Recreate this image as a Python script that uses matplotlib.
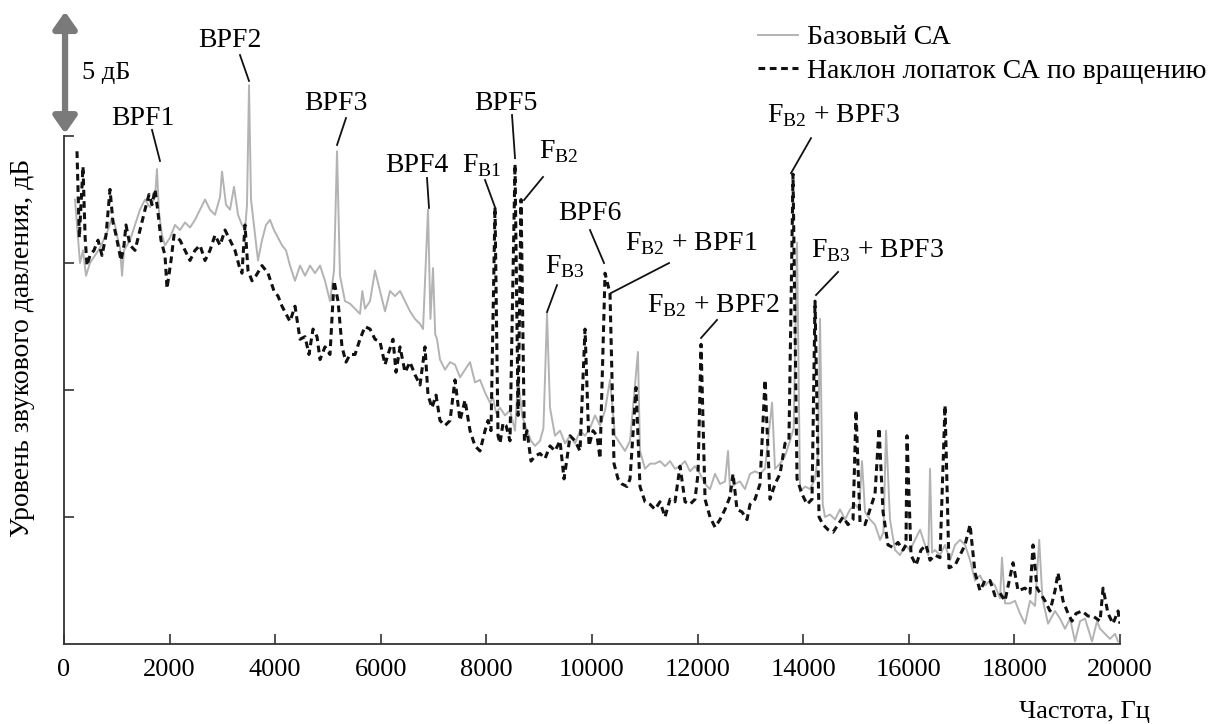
import matplotlib
matplotlib.use("Agg")
import matplotlib.pyplot as plt

plt.rcParams['font.family'] = ['Liberation Serif', 'DejaVu Serif']
plt.rcParams['mathtext.fontset'] = 'custom'
plt.rcParams['mathtext.rm'] = 'Liberation Serif'

# базовый СА (серая сплошная)
base_hz = [208, 246, 303, 360, 417, 492, 587, 682, 833, 909, 966, 1023, 1061, 1099, 1136,
           1250, 1345, 1439, 1534, 1629, 1724, 1761, 1799, 1856, 1913, 2008, 2102, 2197,
           2292, 2386, 2481, 2576, 2671, 2765, 2860, 2955, 2993, 3068, 3144, 3220, 3296,
           3371, 3428, 3466, 3504, 3542, 3580, 3674, 3750, 3826, 3902, 3977, 4053, 4129,
           4205, 4280, 4375, 4470, 4565, 4659, 4754, 4849, 4943, 5038, 5114, 5171, 5227,
           5322, 5417, 5512, 5606, 5650, 5701, 5796, 5890, 5985, 6080, 6174, 6269, 6364,
           6459, 6553, 6648, 6743, 6800, 6894, 6940, 6989, 7030, 7065, 7121, 7216, 7311,
           7405, 7500, 7595, 7690, 7784, 7879, 7974, 8068, 8125, 8182, 8258, 8353, 8447,
           8542, 8600, 8675, 8769, 8845, 8921, 9015, 9080, 9148, 9205, 9299, 9394, 9489,
           9584, 9678, 9773, 9868, 9962, 10057, 10152, 10247, 10341, 10436, 10531, 10625,
           10720, 10870, 10909, 11004, 11099, 11193, 11288, 11383, 11478, 11572, 11667,
           11762, 11856, 11951, 12046, 12141, 12235, 12330, 12424, 12519, 12576, 12614,
           12709, 12803, 12898, 12993, 13088, 13182, 13277, 13410, 13466, 13561, 13656,
           13750, 13820, 13883, 13940, 14035, 14129, 14224, 14281, 14319, 14370, 14413,
           14508, 14603, 14697, 14792, 14887, 14982, 15060, 15114, 15171, 15266, 15360,
           15455, 15520, 15569, 15644, 15739, 15834, 15929, 16023, 16118, 16213, 16307,
           16370, 16402, 16440, 16497, 16591, 16686, 16781, 16876, 16970, 17065, 17160,
           17254, 17349, 17443, 17538, 17633, 17728, 17765, 17822, 17917, 18012, 18106,
           18201, 18296, 18391, 18470, 18530, 18637, 18769, 18864, 18959, 19054, 19148,
           19243, 19338, 19470, 19565, 19622, 19717, 19811, 19905, 19963]
base_db = [17.5, 16.5, 15.0, 15.5, 14.5, 15.0, 15.3, 15.6, 16.3, 16.8, 16.5, 15.9, 15.6, 14.5, 15.5,
           15.9, 16.5, 17.1, 17.5, 17.2, 17.6, 18.7, 17.0, 16.1, 15.7, 16.0, 16.5, 16.3,
           16.6, 16.4, 16.7, 17.1, 17.5, 17.1, 16.9, 17.6, 18.6, 17.3, 17.1, 18.0, 16.9,
           16.5, 16.3, 17.3, 22.0, 17.5, 16.8, 15.1, 15.9, 16.5, 16.7, 16.3, 16.0, 15.7,
           15.5, 14.9, 14.3, 14.9, 14.5, 14.9, 14.6, 14.9, 14.3, 13.5, 14.7, 19.4, 14.5,
           13.5, 13.4, 13.2, 13.0, 13.9, 13.2, 13.5, 14.7, 13.9, 13.1, 13.9, 13.7, 13.9,
           13.5, 13.1, 12.8, 12.6, 12.4, 17.1, 12.8, 14.8, 12.2, 12.0, 11.2, 10.8, 11.1,
           11.0, 10.5, 10.8, 11.1, 10.3, 10.4, 9.9, 9.5, 9.7, 9.1, 9.3, 9.0, 9.2,
           8.4, 10.5, 9.0, 8.4, 8.0, 7.8, 8.0, 8.5, 13.0, 9.3, 8.2, 8.4, 7.9,
           8.2, 7.9, 8.4, 8.2, 8.5, 9.0, 8.6, 9.2, 10.4, 8.2, 7.9, 7.6,
           8.0, 11.5, 7.6, 6.9, 7.1, 7.1, 7.2, 7.0, 7.2, 6.9, 7.0,
           7.2, 6.8, 7.0, 6.7, 6.3, 6.1, 6.7, 6.3, 6.4, 7.6, 6.1,
           6.3, 6.4, 6.1, 6.7, 6.8, 6.7, 6.9, 9.5, 6.9, 7.1, 7.4,
           8.0, 8.5, 15.8, 6.0, 6.2, 6.1, 6.5, 7.5, 12.8, 5.5, 5.0,
           5.1, 4.9, 5.3, 4.9, 5.3, 5.5, 5.3, 7.2, 5.2, 4.9, 4.7,
           4.1, 4.4, 8.4, 4.9, 3.7, 3.5, 3.9, 3.7, 4.1, 4.5, 3.9,
           3.5, 6.9, 3.6, 3.7, 3.5, 3.9, 3.3, 3.9, 4.1, 3.9, 3.3,
           2.5, 2.7, 2.3, 2.5, 2.3, 1.8, 3.4, 1.6, 1.6, 1.7, 1.2,
           0.8, 1.7, 1.5, 4.1, 1.8, 0.8, 1.3, 1.0, 0.6, 1.0, 0.1,
           0.9, 1.0, 0.1, 0.9, 0.6, 0.4, 0.2, 0.4, 0.1]

# наклон лопаток СА (чёрная штриховая)
tilt_hz = [246, 290, 360, 400, 436, 492, 568, 644, 720, 796, 871, 928, 985, 1042, 1080,
           1136, 1174, 1250, 1345, 1439, 1534, 1610, 1667, 1724, 1780, 1837, 1913, 1951,
           2027, 2084, 2197, 2292, 2386, 2481, 2576, 2671, 2765, 2860, 2955, 3050, 3144,
           3239, 3315, 3371, 3428, 3485, 3561, 3636, 3750, 3864, 3977, 4053, 4129, 4205,
           4280, 4375, 4470, 4565, 4640, 4716, 4792, 4849, 4943, 5038, 5114, 5190, 5265,
           5341, 5417, 5512, 5606, 5701, 5796, 5890, 5985, 6080, 6137, 6231, 6288, 6364,
           6459, 6553, 6648, 6743, 6837, 6894, 6970, 7046, 7121, 7216, 7311, 7405, 7500,
           7595, 7690, 7784, 7879, 7974, 8030, 8087, 8163, 8220, 8258, 8315, 8372, 8447,
           8542, 8600, 8656, 8720, 8769, 8845, 8921, 9015, 9110, 9205, 9299, 9394, 9470,
           9527, 9584, 9678, 9773, 9868, 9943, 10019, 10095, 10152, 10247, 10341, 10417,
           10493, 10569, 10663, 10720, 10834, 10909, 11004, 11099, 11193, 11288, 11383,
           11478, 11572, 11667, 11762, 11856, 11951, 12008, 12065, 12141, 12235, 12330,
           12424, 12519, 12614, 12671, 12746, 12841, 12936, 12993, 13088, 13182, 13277,
           13372, 13466, 13561, 13656, 13730, 13807, 13883, 13978, 14073, 14167, 14224,
           14300, 14376, 14470, 14565, 14660, 14754, 14849, 14944, 15000, 15076, 15171,
           15266, 15360, 15436, 15512, 15606, 15701, 15795, 15890, 15947, 15966, 16042,
           16137, 16231, 16326, 16402, 16497, 16591, 16686, 16762, 16876, 16970, 17065,
           17160, 17254, 17349, 17443, 17538, 17633, 17728, 17822, 17974, 18069, 18201,
           18296, 18353, 18428, 18580, 18675, 18769, 18826, 18921, 19016, 19091, 19167,
           19281, 19394, 19489, 19622, 19679, 19773, 19868, 19963, 20000]
tilt_db = [19.4, 16.0, 18.8, 16.0, 14.9, 15.3, 15.5, 15.9, 15.3, 16.1, 17.9, 16.6, 16.1, 15.5, 15.1,
           15.7, 16.5, 15.7, 15.5, 16.3, 17.1, 17.7, 17.3, 17.9, 17.0, 15.9, 15.3, 14.0,
           15.1, 16.1, 15.9, 15.5, 15.1, 15.5, 15.7, 15.1, 15.5, 16.1, 15.7, 16.3, 15.9,
           15.5, 14.9, 14.6, 16.5, 14.7, 14.3, 14.5, 14.9, 14.6, 13.9, 13.7, 13.3, 13.0,
           12.7, 13.3, 12.0, 12.1, 11.4, 12.4, 12.1, 11.2, 11.7, 11.4, 14.3, 13.5, 11.7,
           11.1, 11.4, 11.4, 12.0, 12.5, 12.4, 12.0, 11.9, 11.0, 11.4, 12.0, 10.7, 11.7,
           10.7, 11.1, 10.6, 10.2, 11.7, 9.8, 9.3, 9.8, 8.8, 8.6, 8.8, 10.4, 8.8,
           9.6, 8.4, 7.8, 7.6, 8.4, 8.8, 8.4, 17.2, 8.2, 7.9, 8.7, 8.6, 8.0,
           18.9, 9.0, 17.5, 8.0, 8.4, 7.2, 7.4, 7.5, 7.3, 7.8, 7.6, 8.0, 6.5,
           7.3, 8.2, 8.0, 7.6, 12.4, 7.8, 8.4, 8.2, 7.3, 14.6, 13.8, 7.1,
           6.5, 6.3, 6.2, 6.5, 10.1, 6.2, 5.6, 5.5, 5.3, 5.6, 5.0,
           5.7, 5.6, 7.0, 5.6, 5.5, 5.7, 6.7, 11.8, 5.7, 5.0, 4.6,
           4.9, 5.3, 5.8, 6.7, 5.3, 5.2, 4.9, 5.5, 5.7, 6.3, 10.4,
           5.7, 6.3, 6.7, 7.9, 8.0, 18.5, 6.5, 5.9, 5.5, 5.7, 13.5,
           5.0, 4.7, 4.5, 4.4, 4.7, 5.0, 4.7, 4.9, 9.2, 4.8, 4.7,
           5.3, 5.9, 8.5, 5.2, 3.9, 3.8, 4.0, 3.7, 3.9, 8.2, 3.5,
           3.1, 3.7, 3.9, 3.3, 3.5, 3.4, 9.4, 3.0, 3.1, 3.5, 3.9,
           4.7, 2.8, 2.1, 2.5, 2.5, 1.9, 2.0, 1.7, 3.2, 2.1, 2.2,
           2.0, 3.9, 2.2, 1.7, 1.3, 2.1, 2.8, 1.7, 1.2, 0.9, 1.2,
           1.3, 1.1, 1.1, 0.9, 2.2, 1.2, 0.8, 1.3, 0.8]

x_ticks = list(range(0, 20001, 2000))
y_ticks = [5, 10, 15, 20]

# подписи пиков: текст, положение текста, линия-выноска
peaks = [
    ("BPF1", 1496, 20.43, 1667, 20.24, 1818, 19.02),
    ("BPF2", 3144, 23.5, 3333, 23.19, 3504, 22.17),
    ("BPF3", 5152, 21.02, 5341, 20.71, 5171, 19.65),
    ("BPF4", 6686, 18.58, 6875, 18.35, 6913, 17.17),
    (r"F$_{\rm B1}$", 7917, 18.58, 7974, 18.27, 8163, 17.2),
    ("BPF5", 8372, 21.02, 8485, 20.83, 8542, 19.13),
    (r"F$_{\rm B2}$", 9375, 19.13, 9072, 18.39, 8712, 17.48),
    ("BPF6", 9962, 16.69, 9962, 16.3, 10228, 15.0),
    (r"F$_{\rm B3}$", 9489, 14.61, 9337, 14.13, 9148, 13.07),
    (r"F$_{\rm B2}$ + BPF1", 11875, 15.51, 11459, 15.0, 10360, 13.82),
    (r"F$_{\rm B2}$ + BPF2", 12292, 13.07, 12368, 12.76, 12065, 12.05),
    (r"F$_{\rm B2}$ + BPF3", 14565, 20.55, 14148, 19.92, 13769, 18.54),
    (r"F$_{\rm B3}$ + BPF3", 15398, 15.24, 14660, 14.65, 14243, 13.74),
]

fig = plt.figure(figsize=(12.12, 7.24), dpi=100)
ax = fig.add_axes([64 / 1212, 80 / 724, 1056 / 1212, 640 / 724])

ax.plot(base_hz, base_db, color='#b3b3b3', lw=1.4, label='Базовый СА')
ax.plot(tilt_hz, tilt_db, color='#111111', lw=2.2, ls=(0, (2.2, 1.5)),
        label='Наклон лопаток СА по вращению')

ax.set_xlim(0, 20000)
ax.set_ylim(0, 25.2)
ax.spines['top'].set_visible(False)
ax.spines['right'].set_visible(False)
ax.spines['left'].set_bounds(0, 20)
for s in ('left', 'bottom'):
    ax.spines[s].set_linewidth(1.3)
    ax.spines[s].set_color('#333333')
ax.set_xticks(x_ticks)
ax.set_yticks(y_ticks)
ax.set_yticklabels([])
ax.tick_params(direction='in', length=7, width=1.2, color='#333333')
ax.tick_params(axis='x', labelsize=19, pad=11)

for label, tx, ty, x0, y0, x1, y1 in peaks:
    ax.text(tx, ty, label, ha='center', va='baseline', fontsize=20)
    ax.plot([x0, x1], [y0, y1], color='#111111', lw=1.3)

# стрелка масштаба 5 дБ
ax.annotate('', xy=(20, 20.1), xytext=(20, 24.9),
            arrowprops=dict(arrowstyle='<|-|>,head_length=0.5,head_width=0.35',
                            color='#7a7a7a', lw=4.5, shrinkA=0, shrinkB=0,
                            mutation_scale=20),
            annotation_clip=False)
ax.text(340, 22.5, '5 дБ', ha='left', va='center', fontsize=19)

fig.legend(loc='upper left', bbox_to_anchor=(758 / 1212, 1 - 25 / 724),
           frameon=False, fontsize=20, handlelength=1.45, handletextpad=0.3,
           labelspacing=0.3, borderpad=0, borderaxespad=0)

fig.text(23 / 1212, 0.52, 'Уровень звукового давления, дБ', rotation=90,
         ha='center', va='center', fontsize=20)
fig.text(1150 / 1212, 12 / 724, 'Частота, Гц', ha='right', va='center', fontsize=19)

fig.savefig('out.png', dpi=100)
